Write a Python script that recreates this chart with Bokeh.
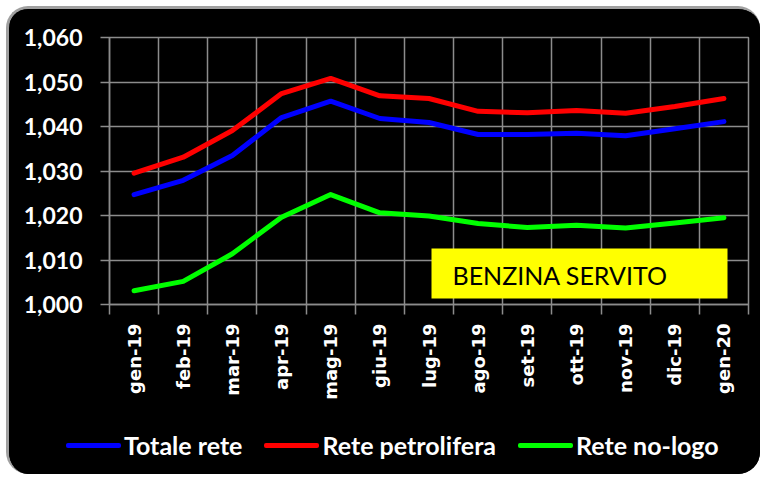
import numpy as np
from bokeh.plotting import figure
from bokeh.layouts import column
from bokeh.models import (Range1d, FixedTicker, BoxAnnotation, Label, Div)
from bokeh.embed import file_html
from bokeh.resources import INLINE

months = ["gen-19", "feb-19", "mar-19", "apr-19", "mag-19", "giu-19", "lug-19",
          "ago-19", "set-19", "ott-19", "nov-19", "dic-19", "gen-20"]
totale_rete = [1.0247, 1.0279, 1.0335, 1.0420, 1.0457, 1.0418, 1.0409,
               1.0382, 1.0382, 1.0385, 1.0379, 1.0395, 1.0411]
rete_petrolifera = [1.0295, 1.0331, 1.0391, 1.0474, 1.0508, 1.0469, 1.0463,
                    1.0434, 1.0431, 1.0436, 1.0430, 1.0445, 1.0463]
rete_no_logo = [1.0031, 1.0052, 1.0114, 1.0196, 1.0247, 1.0206, 1.0199,
                1.0182, 1.0173, 1.0178, 1.0172, 1.0183, 1.0195]
y_ticks = [1.000, 1.010, 1.020, 1.030, 1.040, 1.050, 1.060]
y_tick_labels = ["1,000", "1,010", "1,020", "1,030", "1,040", "1,050", "1,060"]
series_names = ["Totale rete", "Rete petrolifera", "Rete no-logo"]
series_colors = ["#0000ff", "#ff0000", "#00ff00"]
title_box = "BENZINA SERVITO"

n = len(months)
x_centers = list(np.arange(n) + 0.5)
x_bounds = list(np.arange(n + 1).astype(float))

GRID = "#8c8c8c"

p = figure(width=751, height=411, output_backend="svg", toolbar_location=None,
           x_range=Range1d(0, n), y_range=Range1d(y_ticks[0], y_ticks[-1]),
           background_fill_color="black", border_fill_color="black",
           min_border_left=100, min_border_right=12, min_border_top=28,
           min_border_bottom=116)
p.outline_line_color = GRID
p.outline_line_width = 1.5

# x axis: labels at centers, tick marks at category boundaries
p.xaxis.ticker = FixedTicker(ticks=x_centers, minor_ticks=x_bounds)
p.xaxis.major_label_overrides = {float(c): m for c, m in zip(x_centers, months)}
p.xaxis.major_label_orientation = np.pi / 2
p.xaxis.major_tick_line_color = None
p.xaxis.major_tick_out = 10
p.xaxis.major_tick_in = 0
p.xaxis.minor_tick_line_color = GRID
p.xaxis.minor_tick_line_width = 1.5
p.xaxis.minor_tick_out = 10
p.xaxis.minor_tick_in = 0
p.xaxis.axis_line_color = GRID
p.xaxis.axis_line_width = 1.5
p.xaxis.major_label_standoff = 9
p.xaxis.major_label_text_color = "white"
p.xaxis.major_label_text_font = "DejaVu Sans"
p.xaxis.major_label_text_font_style = "bold"
p.xaxis.major_label_text_font_size = "18px"

p.yaxis.ticker = FixedTicker(ticks=y_ticks, minor_ticks=[])
p.yaxis.major_label_overrides = {t: l for t, l in zip(y_ticks, y_tick_labels)}
p.yaxis.major_tick_line_color = GRID
p.yaxis.major_tick_line_width = 1.5
p.yaxis.major_tick_out = 9
p.yaxis.major_tick_in = 0
p.yaxis.axis_line_color = GRID
p.yaxis.axis_line_width = 1.5
p.yaxis.major_label_standoff = 18
p.yaxis.major_label_text_color = "white"
p.yaxis.major_label_text_font = "Lato"
p.yaxis.major_label_text_font_style = "bold"
p.yaxis.major_label_text_font_size = "23px"

p.xgrid.ticker = FixedTicker(ticks=x_bounds, minor_ticks=[])
p.ygrid.ticker = FixedTicker(ticks=y_ticks, minor_ticks=[])
p.xgrid.grid_line_color = GRID
p.ygrid.grid_line_color = GRID
p.xgrid.grid_line_width = 1.5
p.ygrid.grid_line_width = 1.5

# yellow label box
box = BoxAnnotation(left=322, right=618, bottom=6, top=56,
                    left_units="screen", right_units="screen",
                    bottom_units="screen", top_units="screen",
                    fill_color="#ffff00", fill_alpha=1.0, line_color=None, level="overlay")
p.add_layout(box)
lbl = Label(x=343, y=30, x_units="screen", y_units="screen", text=title_box,
            text_font="Lato", text_font_size="25px", text_color="black",
            text_baseline="middle", level="overlay")
p.add_layout(lbl)

for vals, c in zip([totale_rete, rete_petrolifera, rete_no_logo], series_colors):
    p.line(x_centers, vals, line_color=c, line_width=5, line_join="round", line_cap="round")

# legend strip below the chart
item_html = []
for nm, c in zip(series_names, series_colors):
    item_html.append(
        '<div style="display:flex;align-items:center;margin-right:22px;">'
        f'<span style="display:inline-block;width:55px;height:5px;background:{c};'
        'border-radius:2px;margin-right:3px;"></span>'
        f'<span style="color:white;font-family:Lato;font-weight:bold;font-size:25px;'
        f'line-height:30px;">{nm}</span></div>')
legend_div = Div(text='<div style="display:flex;align-items:center;height:50px;'
                      'padding-left:57px;">' + "".join(item_html) + '</div>',
                 width=751, height=54, margin=0,
                 styles={"background-color": "black"})

layout = column(p, legend_div, spacing=0)
layout.styles = {"border-radius": "22px", "overflow": "hidden",
                 "background-color": "black",
                 "margin-left": "6px", "margin-top": "6px",
                 "border-top": "3px solid #a0a0a0", "border-left": "3px solid #a0a0a0"}

open("out.html", "w").write(file_html(layout, INLINE))
